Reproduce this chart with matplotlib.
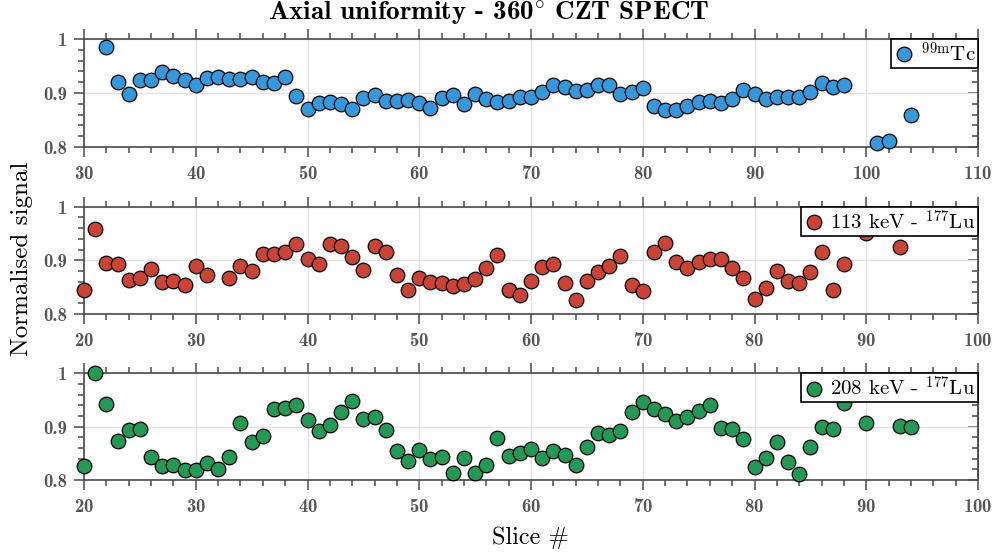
import numpy as np
import matplotlib as mpl
import matplotlib.pyplot as plt
from matplotlib.ticker import MultipleLocator, FuncFormatter

# --- data ---
tc_slices = list(range(32, 99)) + [101, 102, 104]
tc_values = [
    0.985, 0.920, 0.899, 0.924, 0.925, 0.938, 0.932, 0.924, 0.914, 0.927,
    0.929, 0.926, 0.926, 0.930, 0.920, 0.919, 0.930, 0.894, 0.871, 0.882,
    0.883, 0.880, 0.871, 0.890, 0.896, 0.885, 0.885, 0.887, 0.882, 0.873,
    0.890, 0.896, 0.880, 0.899, 0.889, 0.884, 0.886, 0.893, 0.892, 0.901,
    0.915, 0.911, 0.904, 0.905, 0.915, 0.915, 0.898, 0.901, 0.909, 0.876,
    0.868, 0.868, 0.876, 0.884, 0.885, 0.882, 0.888, 0.906, 0.898, 0.889,
    0.893, 0.893, 0.893, 0.902, 0.918, 0.912, 0.915,
    0.807, 0.811, 0.860,
]

lu113_slices = [20, 21, 22, 23, 24, 25, 26, 27, 28, 29, 30, 31] + list(range(33, 89)) + [90, 93]
lu113_values = [
    0.844, 0.959, 0.894, 0.893, 0.863, 0.867, 0.884, 0.860, 0.861, 0.854,
    0.889, 0.872,
    0.867, 0.889, 0.880, 0.912, 0.911, 0.915, 0.930, 0.902, 0.893, 0.930,
    0.926, 0.906, 0.881, 0.926, 0.916, 0.872, 0.845, 0.867, 0.860, 0.857,
    0.852, 0.855, 0.864, 0.885, 0.910, 0.844, 0.835, 0.862, 0.888, 0.893,
    0.858, 0.826, 0.862, 0.878, 0.889, 0.907, 0.853, 0.843, 0.915, 0.933,
    0.897, 0.886, 0.896, 0.903, 0.903, 0.886, 0.867, 0.828, 0.848, 0.880,
    0.861, 0.857, 0.878, 0.915, 0.845, 0.893,
    0.950, 0.925,
]

lu208_slices = list(range(20, 89)) + [90, 93, 94]
lu208_values = [
    0.826, 1.000, 0.942, 0.874, 0.893, 0.896, 0.844, 0.826, 0.828, 0.818,
    0.819, 0.831, 0.820, 0.844, 0.906, 0.871, 0.882, 0.934, 0.935, 0.941,
    0.912, 0.892, 0.904, 0.927, 0.948, 0.914, 0.918, 0.894, 0.854, 0.835,
    0.856, 0.840, 0.844, 0.814, 0.842, 0.814, 0.828, 0.879, 0.845, 0.850,
    0.858, 0.842, 0.854, 0.847, 0.828, 0.861, 0.888, 0.885, 0.892, 0.927,
    0.946, 0.933, 0.923, 0.911, 0.918, 0.930, 0.941, 0.897, 0.895, 0.877,
    0.824, 0.841, 0.872, 0.833, 0.811, 0.861, 0.900, 0.895, 0.945,
    0.907, 0.902, 0.900,
]

labels = [r"$^{\mathrm{99m}}$Tc", r"113 keV - $^{\mathrm{177}}$Lu", r"208 keV - $^{\mathrm{177}}$Lu"]
colors = ["#3498db", "#cb4335", "#229954"]
xlims = [(30, 110), (20, 100), (20, 100)]

plt.rcParams["mathtext.fontset"] = "cm"
plt.rcParams["axes.unicode_minus"] = False
plt.rcParams["axes.formatter.use_mathtext"] = True

spine_col = "#4a4a4a"
tick_col = "#555555"

fig = plt.figure(figsize=(9.98, 5.56), dpi=100)

# axes rectangles in pixels: left, top, right, bottom
rects = [(84, 39, 978, 147), (84, 206.7, 978, 313.7), (84, 373.3, 978, 480)]
W, H = 998, 556

series = [(tc_slices, tc_values), (lu113_slices, lu113_values), (lu208_slices, lu208_values)]

for (l, t, r, b), (xs, ys), lab, col, xl in zip(rects, series, labels, colors, xlims):
    ax = fig.add_axes([l / W, 1 - b / H, (r - l) / W, (b - t) / H])
    ax.plot(xs, ys, "o", ms=10.5, mfc=col, mec="black", mew=0.9,
            label=lab, clip_on=False, zorder=3)
    ax.set_xlim(*xl)
    ax.set_ylim(0.8, 1.0)
    ax.xaxis.set_major_locator(MultipleLocator(10))
    ax.xaxis.set_minor_locator(MultipleLocator(2))
    ax.yaxis.set_major_locator(MultipleLocator(0.1))
    ax.yaxis.set_minor_locator(MultipleLocator(0.02))
    ax.yaxis.set_major_formatter(FuncFormatter(lambda v, p: "%g" % round(v, 2)))
    ax.grid(True, which="major", color="#e3e3e3", lw=1, zorder=0)
    for s in ax.spines.values():
        s.set_color(spine_col)
        s.set_linewidth(1.2)
    ax.tick_params(which="both", direction="out", top=True, color=spine_col,
                   labelcolor=tick_col, labelsize=13.5, width=1.1)
    ax.tick_params(which="major", length=7)
    ax.tick_params(which="minor", length=4.5)
    ax.tick_params(axis="x", which="major", pad=6)
    ax.tick_params(axis="y", which="major", pad=5)
    for tl in ax.get_xticklabels() + ax.get_yticklabels():
        tl.set_family("cmb10")
    # right-hand ticks point inward
    sec = ax.secondary_yaxis("right")
    sec.yaxis.set_major_locator(MultipleLocator(0.1))
    sec.yaxis.set_minor_locator(MultipleLocator(0.02))
    sec.tick_params(which="both", direction="in", labelright=False, color=spine_col, width=1.1)
    sec.tick_params(which="major", length=7)
    sec.tick_params(which="minor", length=4.5)
    sec.spines["right"].set_color(spine_col)
    sec.spines["right"].set_linewidth(1.2)
    leg = ax.legend(loc="upper right", borderaxespad=0, fancybox=False,
                    framealpha=1, edgecolor="black", handletextpad=0.3,
                    handlelength=1.0, borderpad=0.12,
                    prop={"family": "cmr10", "size": 15})
    leg.get_frame().set_linewidth(1.2)
    leg.set_zorder(5)

fig.text(489 / W, 1 - 20 / H, r"Axial uniformity - 360$^{\circ}$ CZT SPECT",
         ha="center", va="baseline", fontsize=19.5, family="cmb10")
fig.text(22 / W, 1 - 259 / H, "Normalised signal", rotation=90,
         ha="center", va="center", fontsize=18, family="cmr10")
fig.text(530 / W, 1 - 538 / H, "Slice #", ha="center", va="center",
         fontsize=17.5, family="cmr10")

fig.savefig("out.png", dpi=100)
